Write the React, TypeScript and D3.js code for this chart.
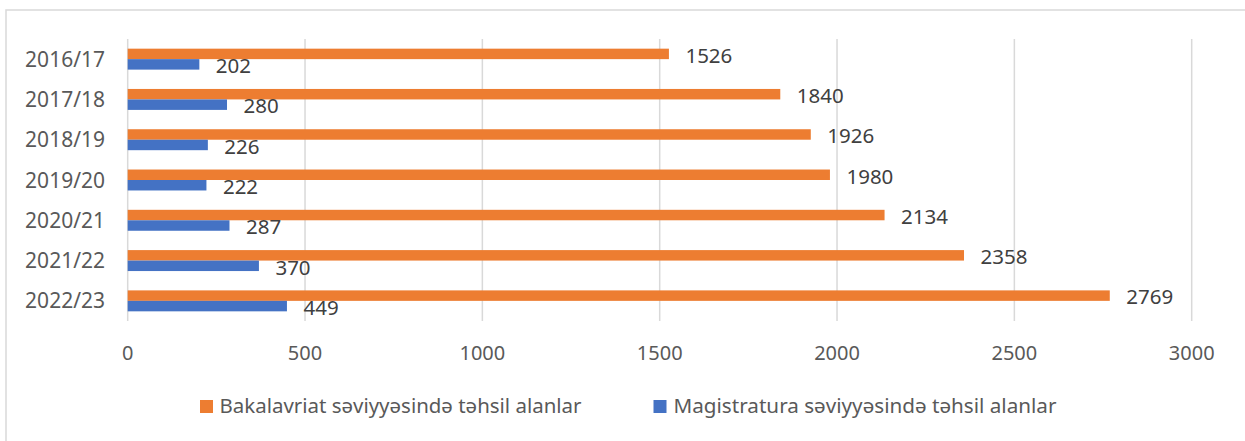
import * as d3 from "d3";

const years = ["2016/17", "2017/18", "2018/19", "2019/20", "2020/21", "2021/22", "2022/23"];
const bachelor = [1526, 1840, 1926, 1980, 2134, 2358, 2769];
const master = [202, 280, 226, 222, 287, 370, 449];
const xTicks = [0, 500, 1000, 1500, 2000, 2500, 3000];
const seriesNames = [
  "Bakalavriat səviyyəsində təhsil alanlar",
  "Magistratura səviyyəsində təhsil alanlar",
];

const ORANGE = "#ED7D31";
const BLUE = "#4472C4";
const GRID = "#d9d9d9";
const FONT = "'Noto Sans', sans-serif";

const width = 1245;
const height = 441;

const App = () => {
  const x = d3.scaleLinear().domain([0, 3000]).range([127.7, 1191.7]);
  const y = d3.scaleBand().domain(years).range([39, 321]).paddingInner(0.48).paddingOuter(0.24);
  const inner = d3.scaleBand().domain(["b", "m"]).range([0, y.bandwidth()]);
  const bh = inner.bandwidth();

  const rows = years.map((yr, i) => ({ yr, b: bachelor[i], m: master[i] }));

  const legend = [
    { name: seriesNames[0], color: ORANGE, sx: 200, tx: 219.5, len: 362 },
    { name: seriesNames[1], color: BLUE, sx: 653.5, tx: 673.5, len: 383 },
  ];

  return (
    <svg
      width={width}
      height={height}
      style={{ position: "absolute", left: 0, top: 0, background: "#fff" }}
      fontFamily={FONT}
    >
      <rect x={6} y={10} width={1260} height={460} fill="#fff" stroke={GRID} strokeWidth={1.5} />

      {xTicks.map((t) => (
        <g key={t}>
          <line x1={x(t)} x2={x(t)} y1={39} y2={321} stroke={GRID} strokeWidth={1.5} />
          <text x={x(t)} y={360} textAnchor="middle" fontSize={20} fill="#595959">
            {t}
          </text>
        </g>
      ))}

      {rows.map((r) => {
        const y0 = y(r.yr) ?? 0;
        const yb = y0 + (inner("b") ?? 0);
        const ym = y0 + (inner("m") ?? 0);
        return (
          <g key={r.yr}>
            <text
              x={105}
              y={y0 + y.bandwidth() / 2 + 7.5}
              textAnchor="end"
              fontSize={21}
              fill="#595959"
            >
              {r.yr}
            </text>
            <rect x={x(0)} y={yb} width={x(r.b) - x(0)} height={bh} fill={ORANGE} />
            <rect x={x(0)} y={ym} width={x(r.m) - x(0)} height={bh} fill={BLUE} />
            <text x={x(r.b) + 16.5} y={yb + bh / 2 + 1.5 + 7.3} fontSize={20.5} fill="#404040">
              {r.b}
            </text>
            <text x={x(r.m) + 16.5} y={ym + bh / 2 + 1.5 + 7.3} fontSize={20.5} fill="#404040">
              {r.m}
            </text>
          </g>
        );
      })}

      {legend.map((l) => (
        <g key={l.name}>
          <rect x={l.sx} y={400} width={13} height={13} fill={l.color} />
          <text
            x={l.tx}
            y={413.3}
            fontSize={20.5}
            fill="#595959"
            textLength={l.len}
            lengthAdjust="spacingAndGlyphs"
          >
            {l.name}
          </text>
        </g>
      ))}
    </svg>
  );
};

export default App;
